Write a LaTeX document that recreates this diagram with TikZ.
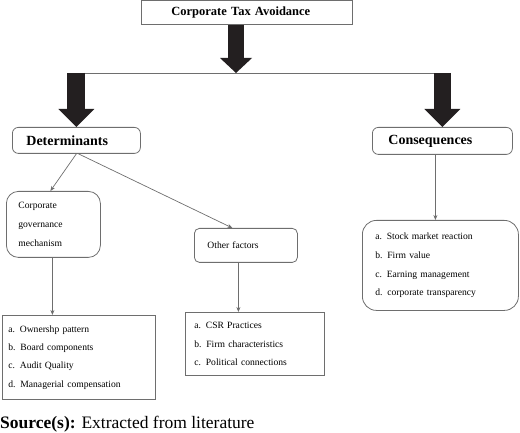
\documentclass[tikz,border=0pt]{standalone}
\usepackage{fontspec}
\setmainfont{Liberation Serif}
\usetikzlibrary{arrows.meta, positioning}
\definecolor{boxgray}{HTML}{6E6E6E}
\definecolor{arrowdark}{HTML}{231F20}

\begin{document}
\begin{tikzpicture}[x=1pt, y=-1pt,
  box/.style={draw=boxgray, line width=0.8pt, anchor=north west, inner ysep=0pt, align=left},
  link/.style={draw=boxgray, line width=0.7pt, -{Stealth[length=5pt,width=4pt]}},
  fat/.style={draw=arrowdark, line width=#1pt},
  bar/.style={draw=boxgray, line width=0.8pt}]
  \useasboundingbox (0,0) rectangle (520,433);

  % Top box
  \node[box, minimum width=211pt, minimum height=24pt, text width=151pt, inner xsep=30pt,
        font=\fontsize{12.5}{14}\selectfont\bfseries] (title) at (141,0) {Corporate Tax Avoidance};

  % Two branches
  \node[box, rounded corners=6pt, minimum width=128pt, minimum height=26pt, text width=100pt, inner xsep=14pt,
        font=\fontsize{14}{16}\selectfont\bfseries] (det) at (12,127) {Determinants};
  \node[box, rounded corners=6pt, minimum width=140pt, minimum height=27pt, text width=108pt, inner xsep=16pt,
        font=\fontsize{14}{16}\selectfont\bfseries] (cons) at (372,127) {Consequences};

  % Determinants side
  \node[box, rounded corners=12pt, minimum width=94pt, minimum height=66pt, text width=70pt, inner xsep=12pt,
        font=\fontsize{9.6}{19}\selectfont] (gov) at (6,191) {Corporate\\governance\\mechanism};
  \node[box, rounded corners=5pt, minimum width=103pt, minimum height=34pt, text width=77pt, inner xsep=13pt,
        font=\fontsize{9.6}{12}\selectfont] (other) at (194,228) {Other factors};

  \node[box, minimum width=153pt, minimum height=84pt, text width=141pt, inner xsep=6pt,
        font=\fontsize{9.6}{18.3}\selectfont] (govlist) at (2,315)
        {a. Ownershp pattern\\b. Board components\\c. Audit Quality\\d. Managerial compensation};
  \node[box, minimum width=139pt, minimum height=63pt, text width=121pt, inner xsep=9pt,
        font=\fontsize{9.6}{18.5}\selectfont] (factlist) at (185,312)
        {a. CSR Practices\\b. Firm characteristics\\c. Political connections};

  % Consequences side
  \node[box, rounded corners=14pt, minimum width=156pt, minimum height=90pt, text width=130pt, inner xsep=13pt,
        font=\fontsize{9.6}{18.7}\selectfont] (conslist) at (362,220)
        {a. Stock market reaction\\b. Firm value\\c. Earning management\\d. corporate transparency};

  % Block arrows
  \coordinate (hub) at (236,73);
  \coordinate (barL) at (67,73);
  \coordinate (barR) at (444,73);
  \draw[bar] (barL) -- (barR);
  \draw[fat=16, -{Triangle[width=32pt,length=15pt,line width=0pt]}] (title.south -| hub) -- (hub);
  \draw[fat=18, -{Triangle[width=36pt,length=18pt,line width=0pt]}] (det.north |- hub) -- (det.north);
  \draw[fat=17, -{Triangle[width=36pt,length=18pt,line width=0pt]}] (cons.north |- hub) -- (cons.north);

  % Thin connectors
  \draw[link] (det.south) -- ([xshift=-3pt]gov.north);
  \draw[link] ([xshift=2pt]det.south) -- ([xshift=-13.5pt]other.north);
  \draw[link] ([xshift=-1pt]gov.south) -- ([xshift=-1pt]gov.south |- govlist.north);
  \draw[link] ([xshift=-7.5pt]other.south) -- ([xshift=-7.5pt]other.south |- factlist.north);
  \draw[link] ([xshift=-7pt]cons.south) -- ([xshift=-7pt]cons.south |- conslist.north);

  % Source line
  \node[anchor=base west, inner sep=0pt, font=\fontsize{17.5}{20}\selectfont] (src) at (0,428)
        {\textbf{Source(s):} Extracted from literature};
\end{tikzpicture}
\end{document}
